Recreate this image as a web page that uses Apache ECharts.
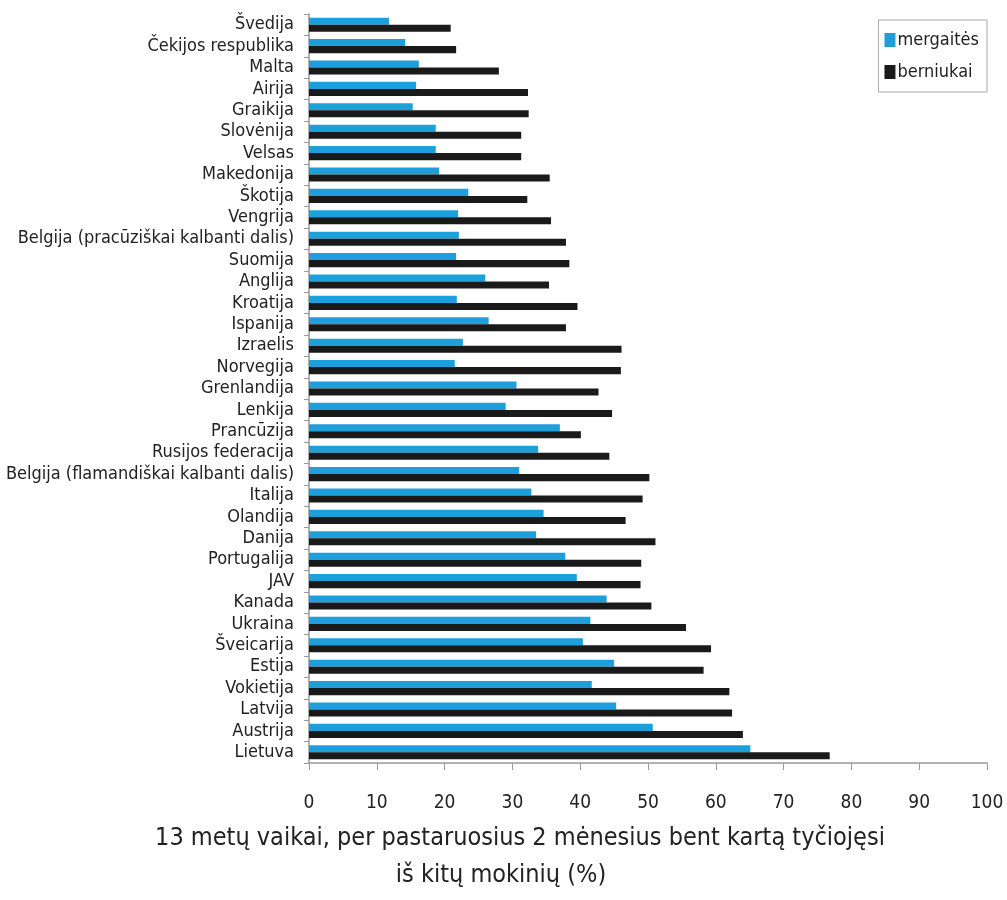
<!DOCTYPE html>
<html>
<head>
<meta charset="utf-8">
<script src="https://cdn.jsdelivr.net/npm/echarts@6/dist/echarts.min.js"></script>
<style>
html,body{margin:0;padding:0;background:#fff;}
#chart{width:1007px;height:900px;}
</style>
</head>
<body>
<div id="chart"></div>
<script>
const categories = ["Švedija","Čekijos respublika","Malta","Airija","Graikija","Slovėnija","Velsas","Makedonija","Škotija","Vengrija","Belgija (pracūziškai kalbanti dalis)","Suomija","Anglija","Kroatija","Ispanija","Izraelis","Norvegija","Grenlandija","Lenkija","Prancūzija","Rusijos federacija","Belgija (flamandiškai kalbanti dalis)","Italija","Olandija","Danija","Portugalija","JAV","Kanada","Ukraina","Šveicarija","Estija","Vokietija","Latvija","Austrija","Lietuva"];
const girls = [11.8,14.2,16.2,15.8,15.3,18.7,18.7,19.2,23.5,22.0,22.1,21.7,26.0,21.8,26.5,22.7,21.5,30.6,29.0,37.0,33.8,31.0,32.8,34.6,33.5,37.8,39.5,43.9,41.5,40.4,45.0,41.7,45.3,50.7,65.1];
const boys = [20.9,21.7,28.0,32.3,32.4,31.3,31.3,35.5,32.2,35.7,37.9,38.4,35.4,39.6,37.9,46.1,46.0,42.7,44.7,40.1,44.3,50.2,49.2,46.7,51.1,49.0,48.9,50.5,55.6,59.3,58.2,62.0,62.4,64.0,76.8];
const xTicks = [0,10,20,30,40,50,60,70,80,90,100];
const seriesNames = ["mergaitės","berniukai"];
const titleLines = ["13 metų vaikai, per pastaruosius 2 mėnesius bent kartą tyčiojęsi","iš kitų mokinių (%)"];

const FONT = '"DejaVu Sans Condensed","Liberation Sans Narrow","Roboto",sans-serif';
const chart = echarts.init(document.getElementById('chart'));
chart.setOption({
  animation:false,
  backgroundColor:'#fff',
  textStyle:{fontFamily:FONT},
  title:[
    {text:titleLines[0],left:515,top:821,textAlign:'center',
     textStyle:{fontFamily:FONT,fontSize:25,fontWeight:'normal',color:'#222'}},
    {text:titleLines[1],left:496,top:858,textAlign:'center',
     textStyle:{fontFamily:FONT,fontSize:25,fontWeight:'normal',color:'#222'}}
  ],
  legend:{
    data:seriesNames,
    orient:'vertical',
    right:20, top:20,
    itemWidth:11, itemHeight:14, itemGap:14,
    padding:[11,8,11,6],
    borderColor:'#aaa', borderWidth:1,
    icon:'rect',
    textStyle:{fontFamily:FONT,fontSize:18,color:'#222',padding:[0,0,0,-3]}
  },
  grid:{left:309,right:20,top:14,bottom:137,containLabel:false,outerBoundsMode:'none'},
  xAxis:{
    type:'value', min:0, max:100, interval:10,
    axisLine:{show:true,lineStyle:{color:'#999',width:1.5}},
    axisTick:{show:true,length:7,lineStyle:{color:'#999'}},
    splitLine:{show:false},
    axisLabel:{fontFamily:FONT,fontSize:19,color:'#222',margin:31,
      formatter:function(v){return xTicks.indexOf(v)>=0?String(v):'';}}
  },
  yAxis:{
    type:'category', data:categories, inverse:true,
    axisLine:{show:true,lineStyle:{color:'#999',width:1.5}},
    axisTick:{show:true,length:5,lineStyle:{color:'#999'}},
    axisLabel:{fontFamily:FONT,fontSize:18,color:'#222',margin:15,interval:0}
  },
  series:[
    {name:seriesNames[0],type:'bar',data:girls,itemStyle:{color:'#1d9fdb'},barGap:'0%',barCategoryGap:'34%'},
    {name:seriesNames[1],type:'bar',data:boys,itemStyle:{color:'#1a1a1a'},barGap:'0%',barCategoryGap:'34%'}
  ]
});
</script>
</body>
</html>
